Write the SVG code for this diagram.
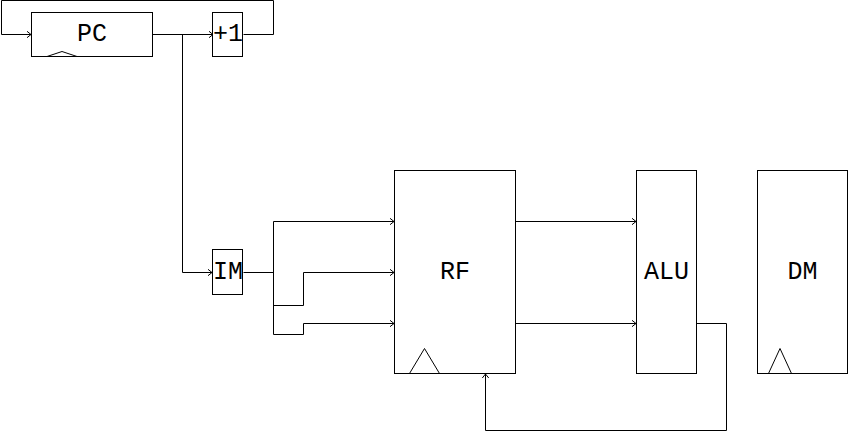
<svg xmlns="http://www.w3.org/2000/svg" width="848" height="432" viewBox="0 0 848 432">
<style>
.box{fill:#fff;stroke:#000;stroke-width:1}
.w{fill:none;stroke:#000;stroke-width:1}
.t{font-family:"Liberation Mono","DejaVu Sans Mono",monospace;font-size:25px;fill:#000;text-anchor:middle;dominant-baseline:central}
</style>
<defs>
<marker id="a" markerWidth="8" markerHeight="8" refX="7" refY="4" orient="auto" markerUnits="userSpaceOnUse">
<path d="M3,0.8 L7,4 L3,7.2" fill="none" stroke="#000" stroke-width="1"/>
</marker>
</defs>
<g id="connectors">
<path class="w" d="M243.5,34.5 H273.5 V0.5 H1.5 V34.5 H31" marker-end="url(#a)"/>
<path class="w" d="M152.5,34.5 H213" marker-end="url(#a)"/>
<path class="w" d="M182.5,34.5 V272.5 H212" marker-end="url(#a)"/>
<path class="w" d="M243.5,272.5 H273.5"/>
<path class="w" d="M273.5,221.5 V334.5"/>
<path class="w" d="M273.5,221.5 H394" marker-end="url(#a)"/>
<path class="w" d="M273.5,305.5 H303.5 V272.5 H394" marker-end="url(#a)"/>
<path class="w" d="M273.5,334.5 H303.5 V323.5 H394" marker-end="url(#a)"/>
<path class="w" d="M515.5,221.5 H636" marker-end="url(#a)"/>
<path class="w" d="M515.5,323.5 H636" marker-end="url(#a)"/>
<path class="w" d="M696.5,323.5 H726.5 V430.5 H485.5 V374" marker-end="url(#a)"/>
</g>
<g id="PC">
<rect class="box" x="31.5" y="12.5" width="121" height="44"/>
<path class="w" d="M47,56.5 L62,51.5 L77,56.5"/>
<text class="t" x="92" y="34">PC</text>
</g>
<g id="inc">
<rect class="box" x="212.5" y="12.5" width="30" height="44"/>
<text class="t" x="228" y="34">+1</text>
</g>
<g id="IM">
<rect class="box" x="212.5" y="249.5" width="30" height="45"/>
<text class="t" x="228" y="272">IM</text>
</g>
<g id="RF">
<rect class="box" x="394.5" y="170.5" width="121" height="203"/>
<path class="w" d="M409.5,373.5 L424.5,348.5 L439.5,373.5"/>
<text class="t" x="455" y="272">RF</text>
</g>
<g id="ALU">
<rect class="box" x="636.5" y="170.5" width="60" height="203"/>
<text class="t" x="666.5" y="272">ALU</text>
</g>
<g id="DM">
<rect class="box" x="757.5" y="170.5" width="90" height="203"/>
<path class="w" d="M768.5,373.5 L780,348.5 L791.5,373.5"/>
<text class="t" x="802.5" y="272">DM</text>
</g>
</svg>
